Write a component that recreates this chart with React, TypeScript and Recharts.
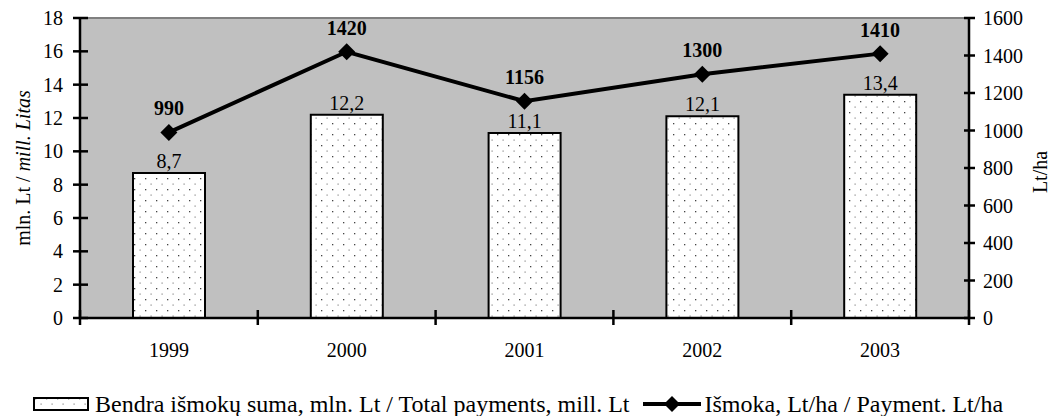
import React from "react";
import {
  ComposedChart,
  Bar,
  Line,
  XAxis,
  YAxis,
  CartesianGrid,
  ReferenceLine,
  LabelList,
} from "recharts";

const years = ["1999", "2000", "2001", "2002", "2003"];
const totalPayments = [8.7, 12.2, 11.1, 12.1, 13.4];
const paymentPerHa = [990, 1420, 1156, 1300, 1410];
const leftTicks = [0, 2, 4, 6, 8, 10, 12, 14, 16, 18];
const rightTicks = [0, 200, 400, 600, 800, 1000, 1200, 1400, 1600];

const data = years.map((year, i) => ({
  year,
  total: totalPayments[i],
  perHa: paymentPerHa[i],
}));

const FONT = '"Liberation Serif", "Times New Roman", serif';
const W = 1053;
const H = 416;

const LeftTick = (props: any) => {
  const { x, y, payload } = props;
  return (
    <g>
      <line x1={x - 7} x2={x + 8} y1={y} y2={y} stroke="#000" strokeWidth={2.5} />
      <text x={x - 17} y={y} dy={7} textAnchor="end" fontSize={20} fontFamily={FONT} fill="#000">
        {payload.value}
      </text>
    </g>
  );
};

const RightTick = (props: any) => {
  const { x, y, payload } = props;
  return (
    <g>
      <line x1={x - 5} x2={x + 6} y1={y} y2={y} stroke="#000" strokeWidth={2.5} />
      <text x={x + 14} y={y} dy={7} textAnchor="start" fontSize={20} fontFamily={FONT} fill="#000">
        {payload.value}
      </text>
    </g>
  );
};

const BottomTick = (props: any) => {
  const { x, y, payload, index, width, visibleTicksCount } = props;
  const half = width / visibleTicksCount / 2;
  return (
    <g>
      <line x1={x - half} x2={x - half} y1={y - 8} y2={y + 7} stroke="#000" strokeWidth={2.5} />
      {index === visibleTicksCount - 1 && (
        <line x1={x + half} x2={x + half} y1={y - 8} y2={y + 7} stroke="#000" strokeWidth={2.5} />
      )}
      <text x={x} y={y} dy={39} textAnchor="middle" fontSize={20} fontFamily={FONT} fill="#000">
        {payload.value}
      </text>
    </g>
  );
};

const Diamond = (props: any) => {
  const { cx, cy } = props;
  if (cx == null || cy == null) return null;
  const r = 8.5;
  return (
    <polygon
      points={`${cx},${cy - r} ${cx + r},${cy} ${cx},${cy + r} ${cx - r},${cy}`}
      fill="#000"
    />
  );
};

const LeftLabel = (props: any) => {
  const { viewBox } = props;
  const cx = viewBox.x + 23;
  const cy = viewBox.y + viewBox.height / 2;
  return (
    <text
      x={cx}
      y={cy}
      transform={`rotate(-90 ${cx} ${cy})`}
      textAnchor="middle"
      dy={7}
      fontSize={20}
      fontFamily={FONT}
      fill="#000"
    >
      mln. Lt / <tspan fontStyle="italic">mill. Litas</tspan>
    </text>
  );
};

const RightLabel = (props: any) => {
  const { viewBox } = props;
  const cx = viewBox.x + viewBox.width - 6;
  const cy = viewBox.y + viewBox.height / 2 + 4;
  return (
    <text
      x={cx}
      y={cy}
      transform={`rotate(-90 ${cx} ${cy})`}
      textAnchor="middle"
      fontSize={20}
      fontFamily={FONT}
      fill="#000"
    >
      Lt/ha
    </text>
  );
};

const fmtComma = (v: any) => String(v).replace(".", ",");

export default function App() {
  return (
    <div style={{ position: "absolute", left: 0, top: 0, width: W, height: H, background: "#fff" }}>
      <ComposedChart
        width={W}
        height={H}
        data={data}
        margin={{ top: 18, right: 0, bottom: 48, left: 0 }}
      >
        <defs>
          <pattern id="dots" width="11" height="11" patternUnits="userSpaceOnUse">
            <rect width="11" height="11" fill="#fff" />
            <rect x="2" y="2" width="1.3" height="1.3" fill="#444" />
            <rect x="7.5" y="7.5" width="1.2" height="1.2" fill="#888" />
          </pattern>
        </defs>
        <CartesianGrid fill="#C0C0C0" horizontal={false} vertical={false} />
        <XAxis
          dataKey="year"
          xAxisId="x"
          height={50}
          axisLine={{ stroke: "#000", strokeWidth: 2.5 }}
          tickLine={false}
          tickSize={0}
          tickMargin={0}
          interval={0}
          tick={<BottomTick />}
        />
        <YAxis
          yAxisId="left"
          orientation="left"
          width={80}
          domain={[0, 18]}
          ticks={leftTicks}
          interval={0}
          axisLine={{ stroke: "#000", strokeWidth: 2.5 }}
          tickLine={false}
          tickSize={0}
          tickMargin={0}
          tick={<LeftTick />}
          label={<LeftLabel />}
        />
        <YAxis
          yAxisId="right"
          orientation="right"
          width={84}
          domain={[0, 1600]}
          ticks={rightTicks}
          interval={0}
          axisLine={{ stroke: "#000", strokeWidth: 2.5 }}
          tickLine={false}
          tickSize={0}
          tickMargin={0}
          tick={<RightTick />}
          label={<RightLabel />}
        />
        <ReferenceLine yAxisId="left" xAxisId="x" y={18} stroke="#808080" strokeWidth={2} />
        <Bar
          dataKey="total"
          xAxisId="x"
          yAxisId="left"
          barSize={72}
          fill="url(#dots)"
          stroke="#000"
          strokeWidth={2}
          isAnimationActive={false}
        >
          <LabelList
            dataKey="total"
            position="top"
            offset={5}
            formatter={fmtComma}
            style={{ fontSize: 20, fontFamily: FONT, fill: "#000" }}
          />
        </Bar>
        <Line
          dataKey="perHa"
          xAxisId="x"
          yAxisId="right"
          type="linear"
          stroke="#000"
          strokeWidth={4}
          dot={<Diamond />}
          activeDot={false}
          isAnimationActive={false}
        >
          <LabelList
            dataKey="perHa"
            position="top"
            offset={17}
            style={{ fontSize: 20, fontFamily: FONT, fill: "#000", fontWeight: "bold" }}
          />
        </Line>
      </ComposedChart>
      <div
        style={{
          position: "absolute",
          left: 33,
          top: 391,
          display: "flex",
          alignItems: "center",
          fontFamily: FONT,
          fontSize: 24,
          color: "#000",
          whiteSpace: "nowrap",
          lineHeight: "26px",
        }}
      >
        <svg width={56} height={16} style={{ marginRight: 6 }}>
          <rect x={1} y={2} width={54} height={12} fill="url(#dots)" stroke="#000" strokeWidth={2} />
        </svg>
        <span>Bendra išmokų suma, mln. Lt / Total payments, mill. Lt</span>
        <svg width={62} height={20} style={{ marginLeft: 11, marginRight: 2 }}>
          <line x1={2} x2={60} y1={10} y2={10} stroke="#000" strokeWidth={4} />
          <polygon points="31,2 39,10 31,18 23,10" fill="#000" />
        </svg>
        <span>Išmoka, Lt/ha / Payment. Lt/ha</span>
      </div>
    </div>
  );
}
